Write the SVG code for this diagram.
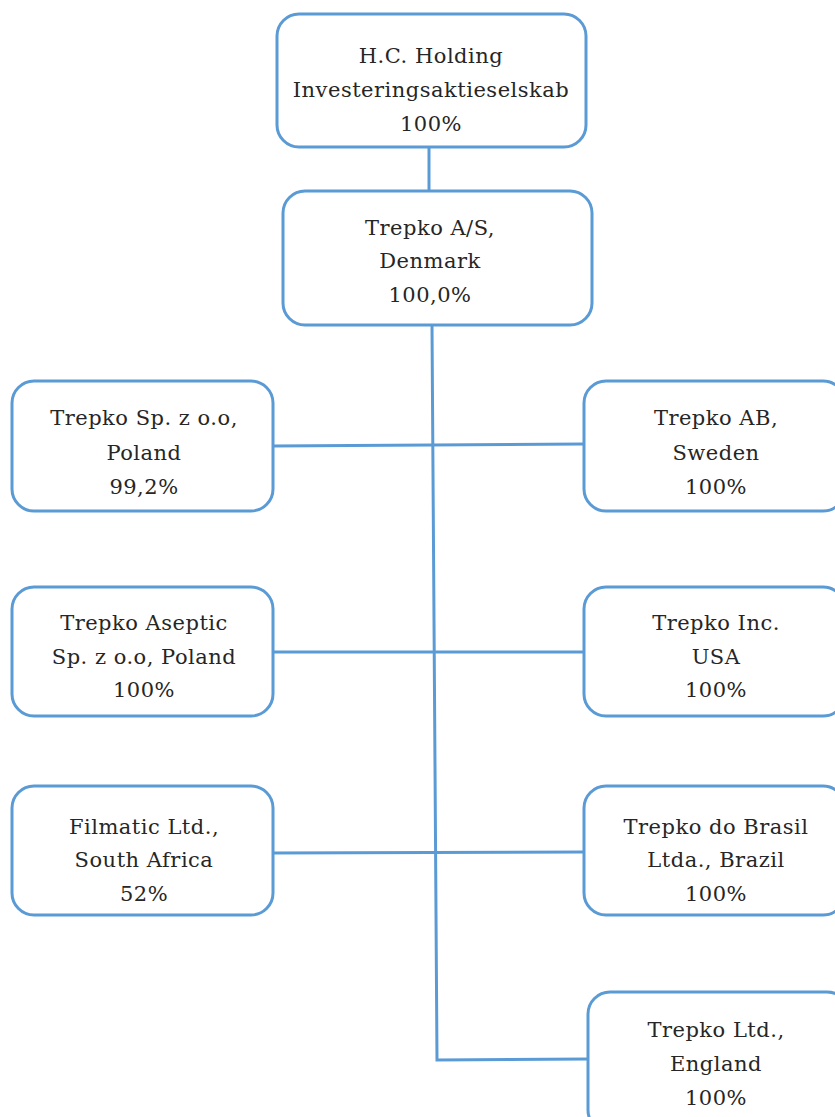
<svg xmlns="http://www.w3.org/2000/svg" width="835" height="1117" viewBox="0 0 835 1117">
<style>
.box{fill:#fff;stroke:#5b9bd5;stroke-width:3}
.con{fill:none;stroke:#5b9bd5;stroke-width:3}
text{font-family:"DejaVu Serif","Liberation Serif",serif;font-size:21px;letter-spacing:0.5px;fill:#262626;text-anchor:middle}
</style>
<rect width="835" height="1117" fill="#fff"/>
<g id="connectors">
<line class="con" x1="429" y1="147" x2="429" y2="191"/>
<polyline class="con" points="432,325 437,1060 588,1059"/>
<line class="con" x1="273" y1="446" x2="584" y2="444"/>
<line class="con" x1="273" y1="652" x2="584" y2="652"/>
<line class="con" x1="273" y1="853" x2="584" y2="852"/>
</g>
<g id="hc">
<rect class="box" x="277" y="14" width="309" height="133" rx="22"/>
<text x="431" y="63">H.C. Holding</text>
<text x="431" y="97">Investeringsaktieselskab</text>
<text x="431" y="131">100%</text>
</g>
<g id="trepko-as">
<rect class="box" x="283" y="191" width="309" height="134" rx="22"/>
<text x="430" y="235">Trepko A/S,</text>
<text x="430" y="268">Denmark</text>
<text x="430" y="302">100,0%</text>
</g>
<g id="poland">
<rect class="box" x="12" y="381" width="261" height="130" rx="22"/>
<text x="144" y="425">Trepko Sp. z o.o,</text>
<text x="144" y="460">Poland</text>
<text x="144" y="494">99,2%</text>
</g>
<g id="sweden">
<rect class="box" x="584" y="381" width="261" height="130" rx="22"/>
<text x="716" y="425">Trepko AB,</text>
<text x="716" y="460">Sweden</text>
<text x="716" y="494">100%</text>
</g>
<g id="aseptic">
<rect class="box" x="12" y="587" width="261" height="129" rx="22"/>
<text x="144" y="630">Trepko Aseptic</text>
<text x="144" y="664">Sp. z o.o, Poland</text>
<text x="144" y="697">100%</text>
</g>
<g id="usa">
<rect class="box" x="584" y="587" width="261" height="129" rx="22"/>
<text x="716" y="630">Trepko Inc.</text>
<text x="716" y="664">USA</text>
<text x="716" y="697">100%</text>
</g>
<g id="filmatic">
<rect class="box" x="12" y="786" width="261" height="129" rx="22"/>
<text x="144" y="834">Filmatic Ltd.,</text>
<text x="144" y="867">South Africa</text>
<text x="144" y="901">52%</text>
</g>
<g id="brazil">
<rect class="box" x="584" y="786" width="261" height="129" rx="22"/>
<text x="716" y="834">Trepko do Brasil</text>
<text x="716" y="867">Ltda., Brazil</text>
<text x="716" y="901">100%</text>
</g>
<g id="england">
<rect class="box" x="588" y="992" width="261" height="140" rx="22"/>
<text x="716" y="1037">Trepko Ltd.,</text>
<text x="716" y="1071">England</text>
<text x="716" y="1105">100%</text>
</g>
</svg>
